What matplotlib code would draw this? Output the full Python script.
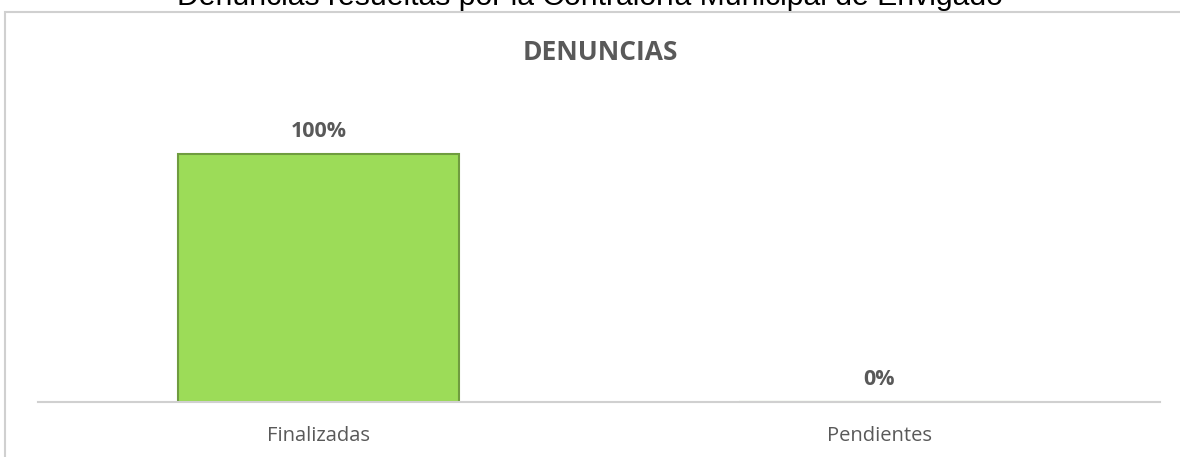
import matplotlib.pyplot as plt
from matplotlib.patches import Rectangle

categorias = ['Finalizadas', 'Pendientes']
porcentajes = [100, 0]
etiquetas = ['100%', '0%']

titulo = 'Denuncias resueltas por la Contraloría Municipal de Envigado'
subtitulo = 'DENUNCIAS'

gris = '#595959'
fuente = ['Open Sans', 'DejaVu Sans']

fig = plt.figure(figsize=(11.8, 4.57), dpi=100)
W, H = 1180, 457

# marco del grafico (recortado arriba y a la derecha, como en la captura)
fig.patches.append(Rectangle((5 / W, -0.1), 1.2, 1.1 - 12 / H, transform=fig.transFigure,
                             facecolor='none', edgecolor='#d0d0d0', linewidth=1.5, zorder=0))

# el titulo sale cortado por arriba en la captura original
fig.text(0.5, 1 - 5 / H, titulo, ha='center', va='baseline',
         fontsize=21.7, family='Liberation Sans', color='black')
fig.text(600 / W, 1 - 53 / H, subtitulo, ha='center', va='center',
         fontsize=19, fontweight='bold', family=fuente, color=gris)

ax = fig.add_axes([38 / W, 1 - 402 / H, (1160 - 38) / W, (402 - 100) / H])
ax.set_facecolor('none')
x = range(len(categorias))
ax.bar(x, porcentajes, width=0.5, color='#9cdc58', edgecolor='#6f9c3f', linewidth=1.5)
for xi, v, t in zip(x, porcentajes, etiquetas):
    ax.annotate(t, (xi, v), xytext=(0, 12), textcoords='offset points', ha='center',
                va='baseline', fontsize=15.5, fontweight='bold', family=fuente, color=gris)

ax.set_xlim(-0.5, 1.5)
ax.set_ylim(0, 100 * (402 - 100) / (402 - 154))
ax.set_xticks(list(x))
ax.set_xticklabels(categorias, fontsize=14.5, family=fuente, color=gris)
ax.tick_params(axis='x', length=0, pad=17)
ax.set_yticks([])
for s in ['top', 'right', 'left']:
    ax.spines[s].set_visible(False)
ax.spines['bottom'].set_color('#d0d0d0')
ax.spines['bottom'].set_linewidth(1.5)

fig.savefig('out.png', dpi=100)
